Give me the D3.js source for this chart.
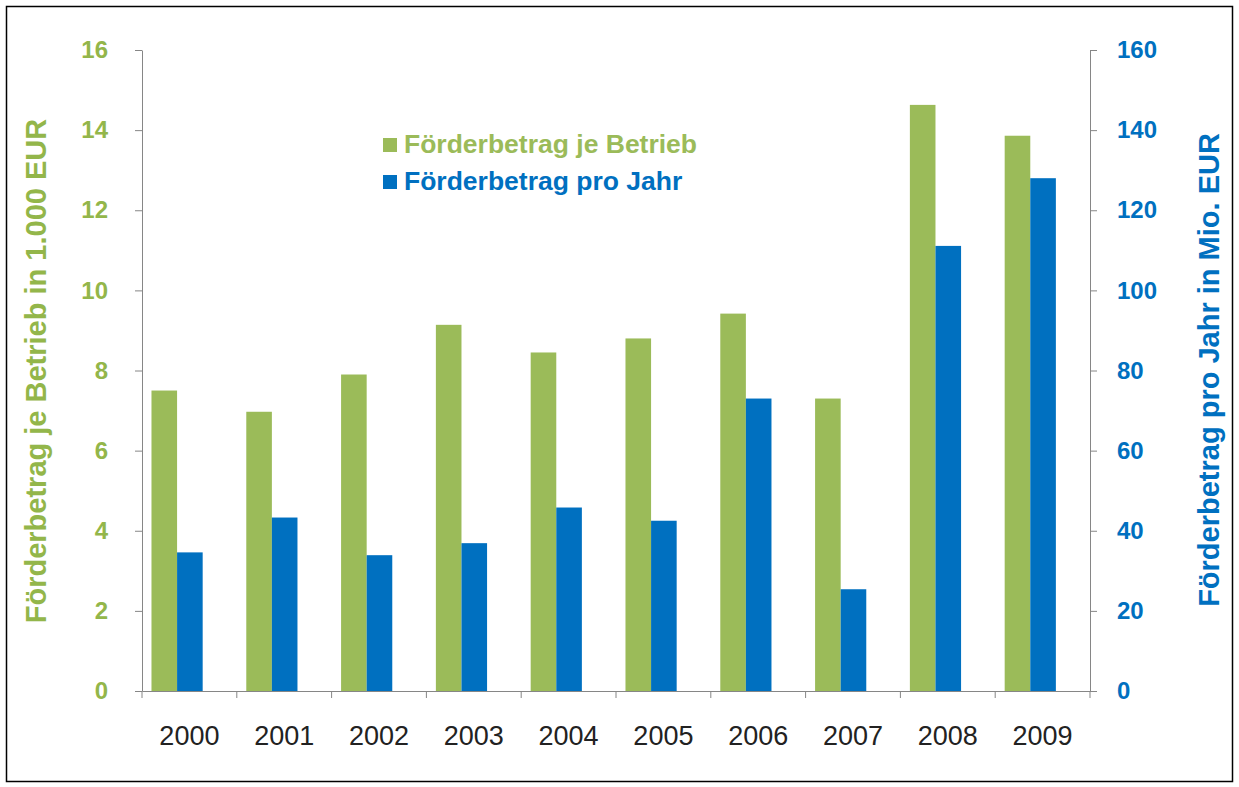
<!DOCTYPE html>
<html><head><meta charset="utf-8">
<script src="https://cdn.jsdelivr.net/npm/d3@7"></script>
<style>html,body{margin:0;padding:0;background:#fff;}svg{display:block;}</style>
</head><body>
<svg id="chart" width="1239" height="787"></svg>
<script>
const years = ["2000","2001","2002","2003","2004","2005","2006","2007","2008","2009"];
const perBetrieb = [7.5, 6.97, 7.9, 9.14, 8.45, 8.8, 9.42, 7.3, 14.63, 13.86];
const proJahr = [34.6, 43.3, 33.9, 36.9, 45.8, 42.5, 73.0, 25.4, 111.1, 128.0];
const leftTicks = [0,2,4,6,8,10,12,14,16];
const rightTicks = [0,20,40,60,80,100,120,140,160];
const seriesNames = ["Förderbetrag je Betrieb", "Förderbetrag pro Jahr"];
const leftTitle = "Förderbetrag je Betrieb in 1.000 EUR";
const rightTitle = "Förderbetrag pro Jahr in Mio. EUR";

const green = "#9BBB59", blue = "#0070C0", greenText = "#93B64A", axisCol = "#868686";
const font = "'Liberation Sans', Arial, sans-serif";

const svg = d3.select("#chart");
svg.append("rect").attr("x",6.5).attr("y",6.5).attr("width",1226).attr("height",775)
  .attr("fill","#fff").attr("stroke","#000").attr("stroke-width",1.5);

const x0 = 142, x1 = 1090, yTop = 50, yBot = 691;
const x = d3.scaleBand().domain(years).range([x0, x1]).paddingInner(0).paddingOuter(0);
const inner = d3.scaleBand().domain(["a","b"]).range([0, x.bandwidth()*0.54]);
const yL = d3.scaleLinear().domain([0,16]).range([yBot, yTop]);
const yR = d3.scaleLinear().domain([0,160]).range([yBot, yTop]);
const off = x.bandwidth()*0.1;

// bars
svg.append("g").selectAll("rect").data(years).join("rect")
  .attr("x", d => x(d) + off + inner("a"))
  .attr("width", inner.bandwidth())
  .attr("y", (d,i) => yL(perBetrieb[i]))
  .attr("height", (d,i) => yBot - yL(perBetrieb[i]))
  .attr("fill", green);
svg.append("g").selectAll("rect").data(years).join("rect")
  .attr("x", d => x(d) + off + inner("b"))
  .attr("width", inner.bandwidth())
  .attr("y", (d,i) => yR(proJahr[i]))
  .attr("height", (d,i) => yBot - yR(proJahr[i]))
  .attr("fill", blue);

// left axis
const gL = svg.append("g").attr("transform", `translate(${x0},0)`)
  .call(d3.axisLeft(yL).tickValues(leftTicks).tickSize(7).tickPadding(27).tickSizeOuter(0));
gL.select(".domain").attr("stroke", axisCol);
gL.selectAll(".tick line").attr("stroke", axisCol);
gL.selectAll(".tick text").attr("fill", greenText).attr("font-family", font)
  .attr("font-size", 24).attr("font-weight","bold");

// right axis
const gR = svg.append("g").attr("transform", `translate(${x1},0)`)
  .call(d3.axisRight(yR).tickValues(rightTicks).tickSize(7).tickPadding(20).tickSizeOuter(0));
gR.select(".domain").attr("stroke", axisCol);
gR.selectAll(".tick line").attr("stroke", axisCol);
gR.selectAll(".tick text").attr("fill", blue).attr("font-family", font)
  .attr("font-size", 24).attr("font-weight","bold");

// bottom axis
const gB = svg.append("g").attr("transform", `translate(0,${yBot})`)
  .call(d3.axisBottom(x).tickSize(0).tickPadding(35).tickSizeOuter(0));
gB.select(".domain").attr("stroke", axisCol);
gB.selectAll(".tick text").attr("fill", "#222").attr("font-family", font).attr("font-size", 27);
const bounds = years.map(d => x(d)).concat([x1]);
gB.selectAll("line.sep").data(bounds).join("line").attr("class","sep")
  .attr("x1", d => d).attr("x2", d => d).attr("y1", 0).attr("y2", 7).attr("stroke", axisCol);

// axis titles
svg.append("text").attr("transform", "translate(46,371) rotate(-90)")
  .attr("text-anchor","middle").attr("font-family", font).attr("font-weight","bold")
  .attr("font-size", 29).attr("fill", greenText).text(leftTitle);
svg.append("text").attr("transform", "translate(1219,370) rotate(-90)")
  .attr("text-anchor","middle").attr("font-family", font).attr("font-weight","bold")
  .attr("font-size", 29).attr("fill", blue).text(rightTitle);

// legend
const legend = svg.append("g");
const legCols = [green, blue];
const legTextCols = [green, blue];
const legY = [153, 190];
seriesNames.forEach((n,i) => {
  legend.append("rect").attr("x", 383).attr("y", legY[i]-15).attr("width", 14).attr("height", 14).attr("fill", legCols[i]);
  legend.append("text").attr("x", 404).attr("y", legY[i]).attr("font-family", font)
    .attr("font-weight","bold").attr("font-size", 26.5).attr("fill", legTextCols[i]).text(n);
});
</script>
</body></html>
